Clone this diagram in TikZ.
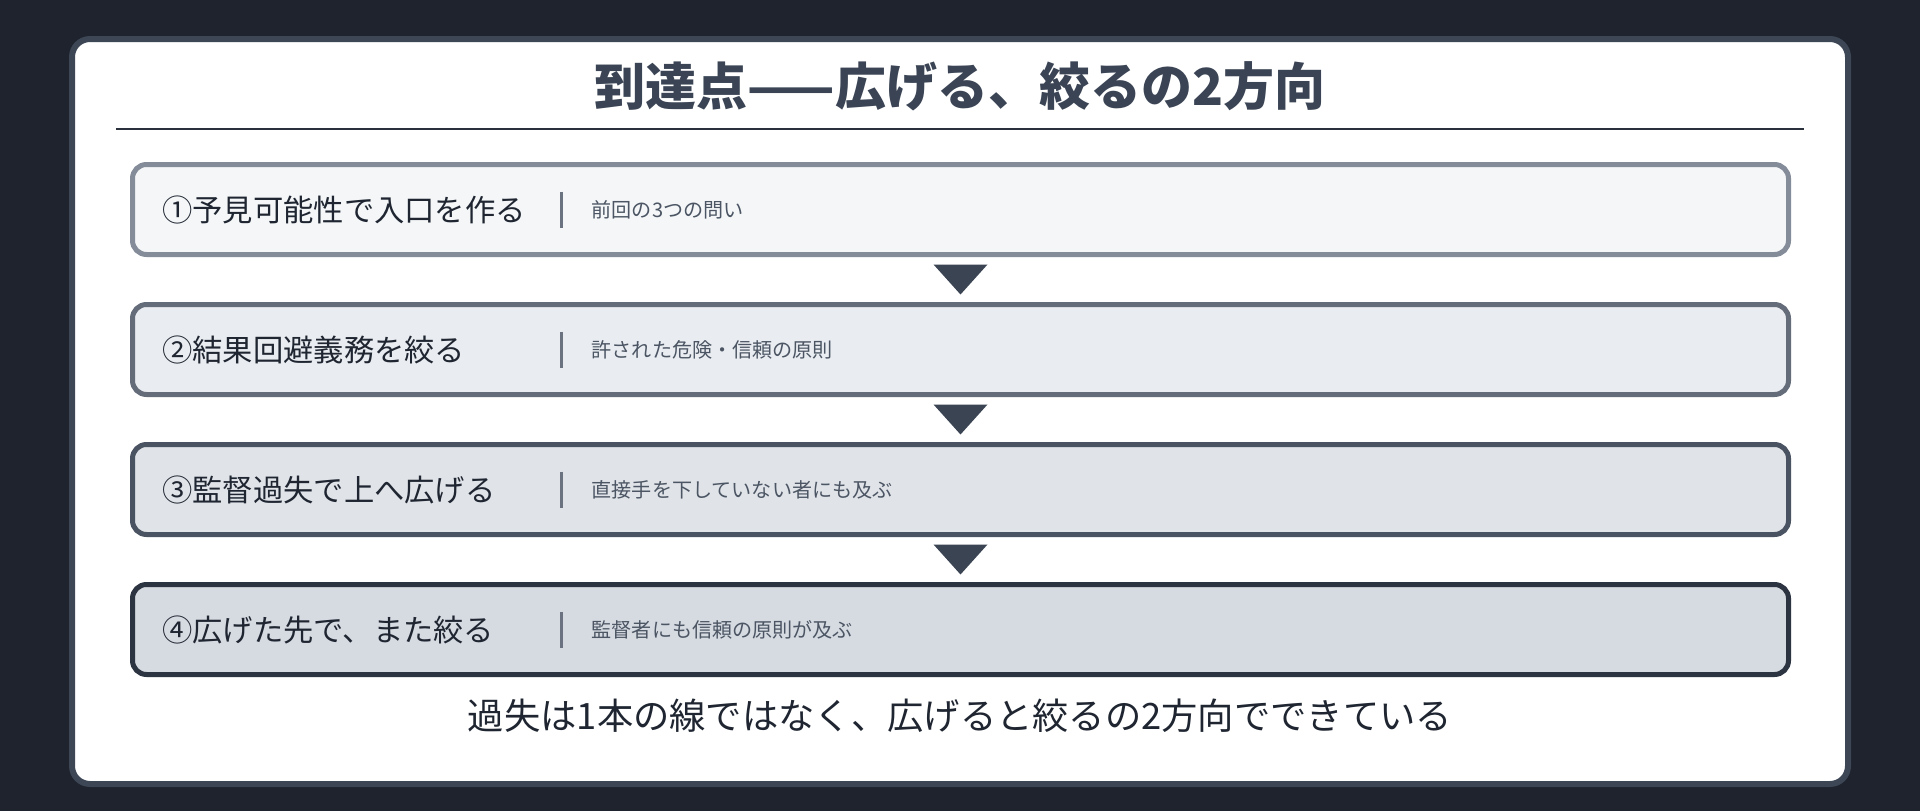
\documentclass[tikz,border=0pt]{standalone}
\usepackage{fontspec}
\setmainfont{Noto Sans CJK JP}
\usetikzlibrary{calc}
\definecolor{bgc}{HTML}{1E232D}
\definecolor{panelline}{HTML}{3C4655}
\definecolor{titlec}{HTML}{3A4454}
\definecolor{rulec}{HTML}{2A313C}
\definecolor{tric}{HTML}{3B4453}
\definecolor{maintext}{HTML}{1F2631}
\definecolor{subtext}{HTML}{4B5563}
\definecolor{barc}{HTML}{6B7280}
\definecolor{fillA}{HTML}{F4F6F8}
\definecolor{fillB}{HTML}{E9ECF0}
\definecolor{fillC}{HTML}{E0E3E8}
\definecolor{fillD}{HTML}{D6DAE1}
\definecolor{lineA}{HTML}{848C99}
\definecolor{lineB}{HTML}{646C7A}
\definecolor{lineC}{HTML}{4A5361}
\definecolor{lineD}{HTML}{2C3441}
\tikzset{
  stepbox/.style={draw, line width=5pt, rounded corners=14pt, minimum width=1656pt, minimum height=90pt, inner sep=0pt},
  mainlabel/.style={anchor=west, inner sep=0pt, text=maintext, font=\fontsize{30.3}{35}\selectfont},
  sublabel/.style={anchor=west, inner sep=0pt, text=subtext, font=\fontsize{20.1}{24}\selectfont},
  sepbar/.style={draw=barc, line width=3pt},
  downtri/.style={fill=tric},
}
\begin{document}
\begin{tikzpicture}[x=1pt,y=-1pt]
\useasboundingbox (0,0) rectangle (1920,811);
\fill[bgc] (0,0) rectangle (1920,811);
\draw[panelline, fill=white, line width=6pt, rounded corners=18pt] (72,39) rectangle (1848,784);
\node[text=titlec, font=\fontsize{51}{60}\selectfont\bfseries, inner sep=0pt] (title) at (960,86) {到達点——広げる、絞るの2方向};
\coordinate (ruleL) at (116,129);
\coordinate (ruleR) at (1804,129);
\draw[rulec, line width=2.5pt] (ruleL) -- (ruleR);

\node[stepbox, draw=lineA, fill=fillA] (b1) at (960.5,209.5) {};
\node[stepbox, draw=lineB, fill=fillB] (b2) at (960.5,349.5) {};
\node[stepbox, draw=lineC, fill=fillC] (b3) at (960.5,489.5) {};
\node[stepbox, draw=lineD, fill=fillD] (b4) at (960.5,629.5) {};

\foreach \b/\m/\s in {b1/①予見可能性で入口を作る/前回の3つの問い,
                      b2/②結果回避義務を絞る/許された危険・信頼の原則,
                      b3/③監督過失で上へ広げる/直接手を下していない者にも及ぶ,
                      b4/④広げた先で、また絞る/監督者にも信頼の原則が及ぶ}{
  \node[mainlabel] (\b m) at ($(\b.west)+(32,0)$) {\m};
  \coordinate (\b bt) at ($(\b.west)+(431,-18)$);
  \coordinate (\b bb) at ($(\b.west)+(431,18)$);
  \draw[sepbar] (\b bt) -- (\b bb);
  \node[sublabel] (\b s) at ($(\b.west)+(461.5,0)$) {\s};
}

\foreach \u/\v in {b1/b2,b2/b3,b3/b4}{
  \coordinate (\u\v) at ($(\u.south)!0.5!(\v.north)$);
  \fill[downtri] ($(\u\v)+(-27,-15)$) -- ($(\u\v)+(27,-15)$) -- ($(\u\v)+(0,15)$) -- cycle;
}

\node[text=maintext, font=\fontsize{36.3}{42}\selectfont, inner sep=0pt] (foot) at (960,716) {過失は1本の線ではなく、広げると絞るの2方向でできている};
\end{tikzpicture}
\end{document}
